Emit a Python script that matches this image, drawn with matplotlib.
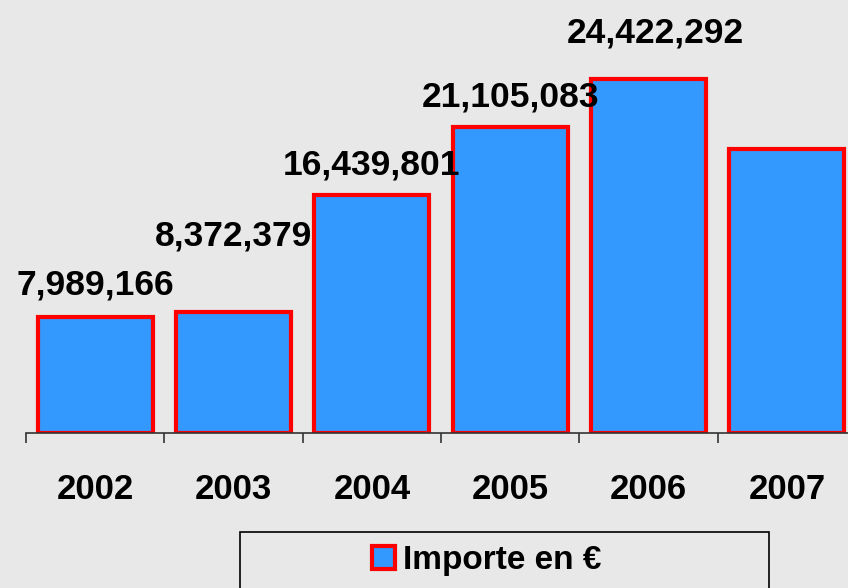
import matplotlib.pyplot as plt
from matplotlib.patches import Rectangle
import numpy as np

plt.rcParams['font.family'] = ['Liberation Sans', 'DejaVu Sans']

years = ['2002', '2003', '2004', '2005', '2006', '2007']
importe = [7989166, 8372379, 16439801, 21105083, 24422292, 19640000]
labels = ['7,989,166', '8,372,379', '16,439,801', '21,105,083', '24,422,292', '']
# label offsets (points) as they were placed in the original
lab_dx = [0, 0, 0, 0, 5, 0]
lab_dy = [16.5, 47.5, 15, 15, 26.6, 0]

bg = '#e8e8e8'
fig = plt.figure(figsize=(8.48, 5.88), dpi=100, facecolor=bg)
ax = fig.add_axes([26 / 848, 155 / 588, 830 / 848, 433 / 588])
ax.set_facecolor(bg)

x = np.arange(len(years))
ax.bar(x, importe, width=0.83, color='#3399ff', edgecolor='#ff0000',
       linewidth=3.0, label='Importe en €', zorder=2)

for i, (v, lab) in enumerate(zip(importe, labels)):
    if lab:
        ax.annotate(lab, (i, v), xytext=(lab_dx[i], lab_dy[i]),
                    textcoords='offset points', ha='center', va='baseline',
                    fontsize=25.5, fontweight='bold', color='black', zorder=5)

ax.set_xlim(-0.5, 5.5)
ax.set_ylim(0, 29.9e6)
ax.set_yticks([])
for s in ['left', 'right', 'top']:
    ax.spines[s].set_visible(False)
ax.spines['bottom'].set_color('#333333')
ax.spines['bottom'].set_linewidth(1.2)

ax.set_xticks(np.arange(-0.5, 6.0, 1.0))
ax.set_xticklabels([])
ax.tick_params(axis='x', which='major', length=7.5, width=1.2, color='#333333', direction='out')
ax.set_xticks(x, minor=True)
ax.set_xticklabels(years, minor=True, fontsize=25, fontweight='bold')
ax.tick_params(axis='x', which='minor', length=0, pad=29)

# legend box (runs past the bottom edge like the original)
fig.patches.append(Rectangle((240 / 848, -0.05), 529 / 848, (588 - 532) / 588 + 0.05,
                             transform=fig.transFigure, facecolor='none',
                             edgecolor='black', linewidth=1.2))
h, l = ax.get_legend_handles_labels()
fig.legend(h, l, loc='center', bbox_to_anchor=(487 / 848, 1 - 561 / 588),
           frameon=False, prop={'size': 24, 'weight': 'bold'},
           handlelength=0.68, handleheight=0.68, handletextpad=0.25,
           borderpad=0, borderaxespad=0)

fig.savefig('out.png', dpi=100, facecolor=bg)
